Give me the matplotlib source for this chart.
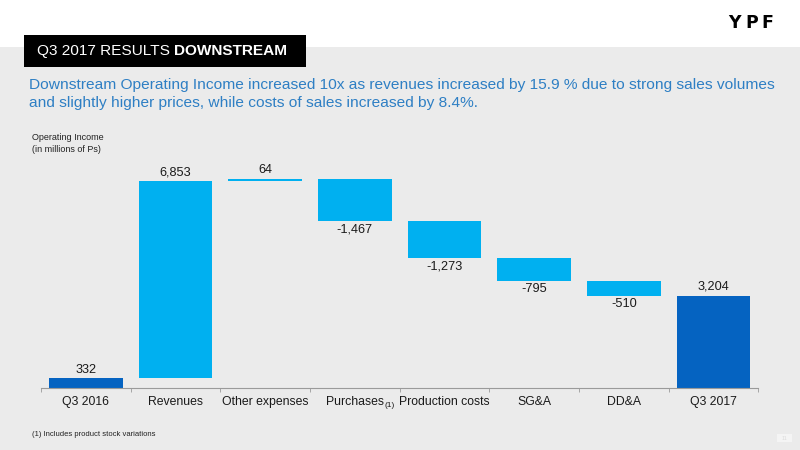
import matplotlib
matplotlib.use("Agg")
import matplotlib.pyplot as plt
from matplotlib.patches import Rectangle
from matplotlib.text import Annotation

plt.rcParams['font.family'] = ['Liberation Sans', 'DejaVu Sans']

categories = ['Q3 2016', 'Revenues', 'Other expenses', 'Purchases', 'Production costs',
              'SG&A', 'DD&A', 'Q3 2017']
values = [332, 6853, 64, -1467, -1273, -795, -510, 3204]
is_total = [True, False, False, False, False, False, False, True]

light_blue = '#00b0f0'
dark_blue = '#0563c1'
bg_gray = '#ebebeb'

fig = plt.figure(figsize=(8, 4.5), dpi=100)
fig.patch.set_facecolor('white')
# grey slide body under the white top strip
fig.add_artist(Rectangle((0, 0), 1, 1 - 47/450, transform=fig.transFigure,
                         facecolor=bg_gray, edgecolor='none', zorder=-10))
# black header box
fig.add_artist(Rectangle((24/800, 1 - 67/450), 282/800, 32/450, transform=fig.transFigure,
                         facecolor='black', edgecolor='none', zorder=1))

t1 = fig.text(37/800, 1 - 51/450, 'Q3 2017 RESULTS ', color='white', fontsize=11.1,
              va='center', ha='left', zorder=2)
fig.add_artist(Annotation('DOWNSTREAM', xy=(1, 0.5), xycoords=t1, va='center', ha='left',
                          color='white', fontsize=11.1, fontweight='bold', zorder=2))

# logo letters, spaced out like the slide logo
for letter, xpx in zip('YPF', [734, 752, 767]):
    fig.text(xpx/800, 1 - 23.5/450, letter, fontsize=12.5, fontweight='bold',
             family='DejaVu Sans', ha='center', va='center', color='black')

fig.text(29/800, 1 - 85/450,
         'Downstream Operating Income increased 10x as revenues increased by 15.9 % due to strong sales volumes',
         color='#2e7fc4', fontsize=11.15, va='center', ha='left')
fig.text(29/800, 1 - 103.5/450,
         'and slightly higher prices, while costs of sales increased by 8.4%.',
         color='#2e7fc4', fontsize=11.15, va='center', ha='left')

fig.text(32/800, 1 - 138/450, 'Operating Income', fontsize=6.5, va='center', color='#222222')
fig.text(32/800, 1 - 150/450, '(in millions of Ps)', fontsize=6.5, va='center', color='#222222')
fig.text(32/800, 1 - 434/450, '(1) Includes product stock variations', fontsize=5.5,
         va='center', color='#222222')

# page number box
fig.add_artist(Rectangle((777/800, 1 - 442/450), 15/800, 8/450, transform=fig.transFigure,
                         facecolor='#f4f4f4', edgecolor='none', zorder=1))
fig.text(784.5/800, 1 - 438/450, '11', fontsize=4, color='#dcdcdc', ha='center', va='center')

ax = fig.add_axes([41/800, 62/450, 717.3/800, 230.4/450])
ax.set_facecolor('none')
ax.set_xlim(-0.5, len(categories) - 0.5)
ax.set_ylim(0, 8000)

running = 0
for i, (cat, v, tot) in enumerate(zip(categories, values, is_total)):
    if tot:
        bottom, height, color = 0, v, dark_blue
        running = v
    else:
        bottom = running + min(v, 0)
        height = abs(v)
        color = light_blue
        running += v
    ax.bar(i, height, bottom=bottom, width=0.82, color=color, edgecolor='none')
    label = '{:,}'.format(v)
    if v >= 0:
        ax.annotate(label, (i, bottom + height), xytext=(0, 2), textcoords='offset points',
                    ha='center', va='bottom', fontsize=9.2, color='#1a1a1a')
    else:
        ax.annotate(label, (i, bottom), xytext=(0, -1.5), textcoords='offset points',
                    ha='center', va='top', fontsize=9.2, color='#1a1a1a')

ax.set_xticks(range(len(categories)))
ax.set_xticklabels(categories, fontsize=8.8, color='#1a1a1a')
ax.tick_params(axis='x', which='major', length=0, pad=6)
ax.set_xticks([i - 0.5 for i in range(len(categories) + 1)], minor=True)
ax.tick_params(axis='x', which='minor', length=3, color='#9a9a9a')
ax.set_yticks([])
for s in ['top', 'left', 'right']:
    ax.spines[s].set_visible(False)
ax.spines['bottom'].set_color('#9a9a9a')
ax.spines['bottom'].set_linewidth(0.8)

# footnote mark after "Purchases"
ax.annotate('(1)', xy=(3.33, 0), xycoords=('data', 'axes fraction'), xytext=(0, -12.5),
            textcoords='offset points', fontsize=6, ha='left', va='center', color='#1a1a1a')

fig.savefig('out.png', dpi=100, facecolor=fig.get_facecolor())
